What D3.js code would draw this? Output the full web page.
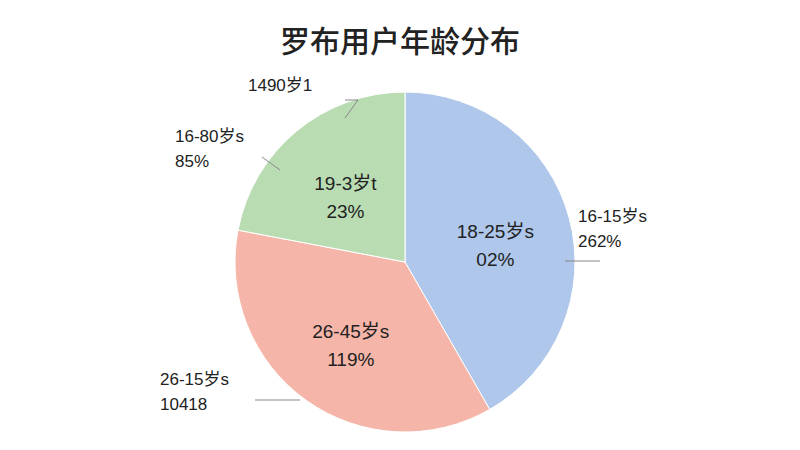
<!DOCTYPE html><html><head><meta charset="utf-8">
<script src="https://cdn.jsdelivr.net/npm/d3@7"></script>
<style>body{margin:0;background:#fff}</style></head><body>
<svg id="c" width="800" height="450"></svg>
<script>
const categories=["18-25岁s","26-45岁s","19-3岁t"];
const values=[41.7,36.3,22.0];
const innerPct=["02%","119%","23%"];
const colors=["#aec7ea","#f5b5a8","#badcb3"];
const outerLabels=[["16-15岁s","262%"],["26-15岁s","10418"],["16-80岁s","85%"],["1490岁1",""]];
const FF="'Liberation Sans','Noto Sans CJK SC',sans-serif";
const svg=d3.select("#c");
svg.append("text").attr("x",400).attr("y",52).attr("text-anchor","middle")
 .attr("font-family","'Noto Sans CJK SC'").attr("font-size",30).attr("font-weight",500).attr("fill","#222").text("罗布用户年龄分布");
const cx=405,cy=262,r=170;
const g=svg.append("g").attr("transform",`translate(${cx},${cy})`);
const arcs=d3.pie().sort(null)(values);
const arc=d3.arc().innerRadius(0).outerRadius(r);
g.selectAll("path").data(arcs).join("path").attr("d",arc).attr("fill",(d,i)=>colors[i]).attr("stroke","#fff").attr("stroke-width",1);
const inner=d3.arc().innerRadius(r*0.55).outerRadius(r*0.55);
arcs.forEach((d,i)=>{
 const [x,y]=inner.centroid(d);
 const t=g.append("text").attr("text-anchor","middle").attr("font-family",FF).attr("font-size",19).attr("fill","#222");
 t.append("tspan").attr("x",x).attr("y",y).text(categories[i]);
 t.append("tspan").attr("x",x).attr("y",y+28).text(innerPct[i]);
});
const outer=[
 {l:outerLabels[0],x:578,y:222,line:[[600,261],[565,261]]},
 {l:outerLabels[1],x:160,y:385,line:[[255,400],[300,400]]},
 {l:outerLabels[2],x:175,y:142,line:[[262,157],[280,170]]},
 {l:outerLabels[3],x:248,y:91,line:[[345,100],[358,100],[345,118]]}
];
outer.forEach(o=>{
 svg.append("path").attr("d",d3.line()(o.line)).attr("fill","none").attr("stroke","#888").attr("stroke-width",1);
 const t=svg.append("text").attr("font-family",FF).attr("font-size",17).attr("fill","#222");
 t.append("tspan").attr("x",o.x).attr("y",o.y).text(o.l[0]);
 if(o.l[1]) t.append("tspan").attr("x",o.x).attr("y",o.y+25).text(o.l[1]);
});
</script></body></html>
